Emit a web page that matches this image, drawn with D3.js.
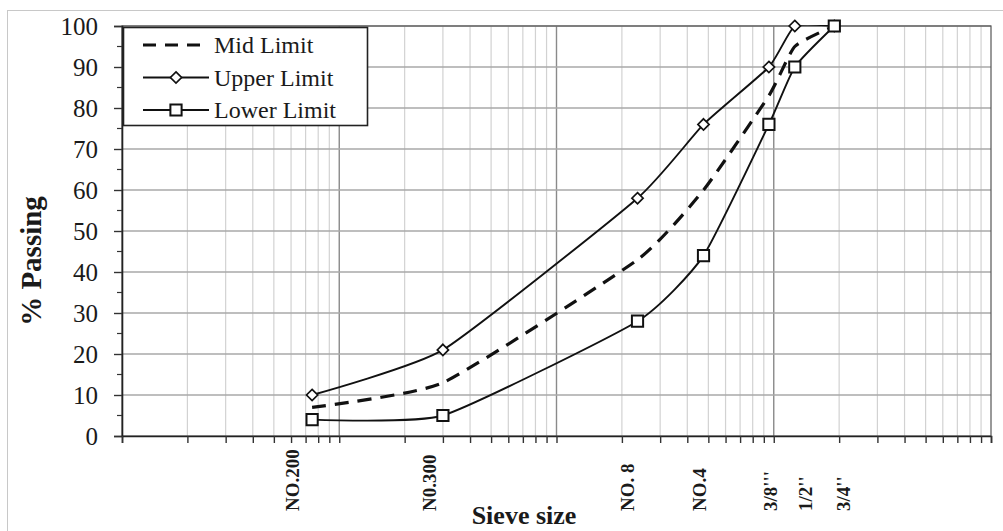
<!DOCTYPE html>
<html>
<head>
<meta charset="utf-8">
<script src="https://cdn.jsdelivr.net/npm/d3@7/dist/d3.min.js"></script>
<style>
  html, body { margin: 0; padding: 0; background: #fff; }
  svg { display: block; }
</style>
</head>
<body>
<svg id="chart" width="1003" height="531"></svg>
<script>
// Sieve openings (mm) and their names
const sieveSizes  = [0.075, 0.3, 2.36, 4.75, 9.5, 12.5, 19];
const sieveLabels = ["NO.200", "N0.300", "NO. 8", "NO.4", "3/8'''", "1/2''", "3/4''"];

// Gradation envelope, % passing
const upperLimit = [10, 21, 58, 76, 90, 100, 100];
const lowerLimit = [4, 5, 28, 44, 76, 90, 100];
const midLimit   = [7, 13, 43, 60, 83, 95, 100];

const yTicks = [0, 10, 20, 30, 40, 50, 60, 70, 80, 90, 100];

const svg = d3.select("#chart");
const W = 1003, H = 531;
const plot = { left: 122, right: 991, top: 26, bottom: 436 };

const x = d3.scaleLog().domain([0.01, 100]).range([plot.left, plot.right]);
const y = d3.scaleLinear().domain([0, 100]).range([plot.bottom, plot.top]);

// Outer chart frame
svg.append("rect")
  .attr("x", 7.5).attr("y", 10.5)
  .attr("width", W).attr("height", H)
  .attr("fill", "#fff").attr("stroke", "#c8c8c8").attr("stroke-width", 1);

// Log grid values: 1..9 in every decade
const logGrid = [];
for (let e = -2; e < 2; e++) {
  for (let m = 1; m <= 9; m++) logGrid.push(m * Math.pow(10, e));
}
logGrid.push(100);

const grid = svg.append("g");
grid.selectAll("line.vminor")
  .data(logGrid.filter(v => Math.abs(Math.log10(v) - Math.round(Math.log10(v))) > 1e-9))
  .join("line")
  .attr("x1", d => x(d)).attr("x2", d => x(d))
  .attr("y1", plot.top).attr("y2", plot.bottom)
  .attr("stroke", "#d2d2d2").attr("stroke-width", 1.2);
grid.selectAll("line.vmajor")
  .data([0.1, 1, 10])
  .join("line")
  .attr("x1", d => x(d)).attr("x2", d => x(d))
  .attr("y1", plot.top).attr("y2", plot.bottom)
  .attr("stroke", "#8a8a8a").attr("stroke-width", 1.4);
grid.selectAll("line.h")
  .data(yTicks.slice(1))
  .join("line")
  .attr("x1", plot.left).attr("x2", plot.right)
  .attr("y1", d => y(d)).attr("y2", d => y(d))
  .attr("stroke", "#a8a8a8").attr("stroke-width", 1.4);

// Plot border
svg.append("rect")
  .attr("x", plot.left).attr("y", plot.top)
  .attr("width", plot.right - plot.left).attr("height", plot.bottom - plot.top)
  .attr("fill", "none").attr("stroke", "#555").attr("stroke-width", 1.2);

// Y axis with minor ticks
const yAxis = svg.append("g").attr("transform", `translate(${plot.left},0)`);
yAxis.call(d3.axisLeft(y).tickValues(yTicks).tickSize(8).tickPadding(16))
  .call(g => g.select(".domain").attr("stroke", "#222").attr("stroke-width", 1.6))
  .call(g => g.selectAll(".tick line").attr("stroke", "#333").attr("stroke-width", 1.4))
  .call(g => g.selectAll(".tick text")
    .attr("font-family", "'Liberation Serif', 'Times New Roman', serif")
    .attr("font-size", 25).attr("fill", "#1a1a1a"));
yAxis.selectAll("line.minor")
  .data(d3.range(5, 100, 10))
  .join("line")
  .attr("x1", -5).attr("x2", 0)
  .attr("y1", d => y(d)).attr("y2", d => y(d))
  .attr("stroke", "#333").attr("stroke-width", 1.2);

// X axis: ticks on every log grid value, sieve names placed separately
const xAxis = svg.append("g").attr("transform", `translate(0,${plot.bottom})`);
xAxis.call(d3.axisBottom(x).tickValues(logGrid).tickSize(7).tickFormat(""))
  .call(g => g.select(".domain").attr("stroke", "#222").attr("stroke-width", 1.6))
  .call(g => g.selectAll(".tick line").attr("stroke", "#333").attr("stroke-width", 1.4));

// Sieve names, rotated, slightly offset as in the layout
const labelDx = [-20, -14, -11, -5, 1, 10, 9];
svg.append("g").selectAll("text")
  .data(sieveSizes)
  .join("text")
  .attr("transform", (d, i) => `translate(${x(d) + labelDx[i] + 7},511) rotate(-90)`)
  .attr("text-anchor", "start")
  .attr("font-family", "'Liberation Serif', 'Times New Roman', serif")
  .attr("font-weight", "bold")
  .attr("font-size", 19)
  .attr("fill", "#1a1a1a")
  .text((d, i) => sieveLabels[i]);

// Axis titles
svg.append("text")
  .attr("x", 524).attr("y", 524)
  .attr("text-anchor", "middle")
  .attr("font-family", "'Liberation Serif', 'Times New Roman', serif")
  .attr("font-weight", "bold").attr("font-size", 26).attr("fill", "#1a1a1a")
  .text("Sieve size");
svg.append("text")
  .attr("transform", "translate(41,261) rotate(-90)")
  .attr("text-anchor", "middle")
  .attr("font-family", "'Liberation Serif', 'Times New Roman', serif")
  .attr("font-weight", "bold").attr("font-size", 29).attr("fill", "#1a1a1a")
  .text("% Passing");

// Curves
svg.append("clipPath").attr("id", "plotClip")
  .append("rect")
  .attr("x", plot.left).attr("y", plot.top - 1)
  .attr("width", plot.right - plot.left).attr("height", plot.bottom - plot.top + 1);

const line = d3.line()
  .x(d => x(d[0])).y(d => y(d[1]))
  .curve(d3.curveCardinal.tension(0.5));

const series = [
  { name: "Mid Limit",   values: midLimit,   dash: "14,9", width: 3.2, marker: null },
  { name: "Upper Limit", values: upperLimit, dash: null,   width: 1.9, marker: "diamond" },
  { name: "Lower Limit", values: lowerLimit, dash: null,   width: 1.9, marker: "square" }
];

const curves = svg.append("g").attr("clip-path", "url(#plotClip)");
series.forEach(s => {
  curves.append("path")
    .datum(sieveSizes.map((v, i) => [v, s.values[i]]))
    .attr("d", line)
    .attr("fill", "none").attr("stroke", "#111")
    .attr("stroke-width", s.width)
    .attr("stroke-dasharray", s.dash);
});

const diamond = d3.symbol().type(d3.symbolDiamond2).size(80);
const square = d3.symbol().type(d3.symbolSquare2).size(160);
function drawMarker(g, type, cx, cy) {
  g.append("path")
    .attr("transform", `translate(${cx},${cy})`)
    .attr("d", type === "diamond" ? diamond() : square())
    .attr("fill", "#fff").attr("stroke", "#111")
    .attr("stroke-width", type === "diamond" ? 1.7 : 2);
}

const markers = svg.append("g");
series.filter(s => s.marker).forEach(s => {
  sieveSizes.forEach((v, i) => drawMarker(markers, s.marker, x(v), y(s.values[i])));
});

// Legend
const legend = svg.append("g");
legend.append("rect")
  .attr("x", 123.5).attr("y", 27.5).attr("width", 244).attr("height", 98)
  .attr("fill", "#fff").attr("stroke", "#222").attr("stroke-width", 1.6);
series.forEach((s, i) => {
  const cy = 45 + i * 32.5;
  legend.append("line")
    .attr("x1", 143).attr("x2", 209).attr("y1", cy).attr("y2", cy)
    .attr("stroke", "#111").attr("stroke-width", s.width)
    .attr("stroke-dasharray", s.dash ? "13,9" : null);
  if (s.marker) drawMarker(legend, s.marker, 176, cy);
  legend.append("text")
    .attr("x", 214).attr("y", cy + 8)
    .attr("font-family", "'Liberation Serif', 'Times New Roman', serif")
    .attr("font-size", 24).attr("fill", "#1a1a1a")
    .text(s.name);
});
</script>
</body>
</html>
